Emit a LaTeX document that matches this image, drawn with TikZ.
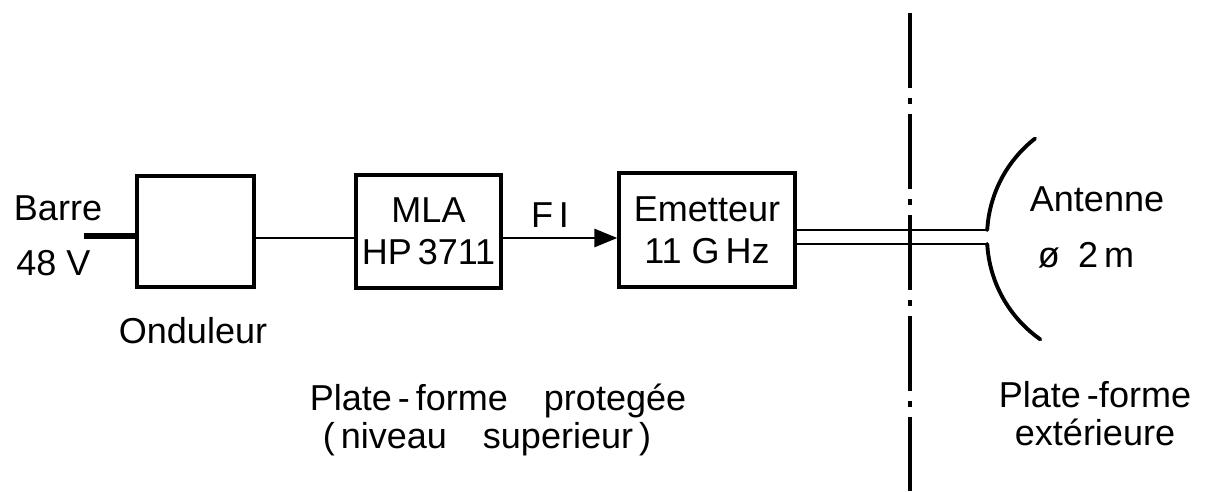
\documentclass[tikz,border=0pt]{standalone}
\usepackage{fontspec}
\setmainfont{Liberation Sans}
\usetikzlibrary{arrows.meta}

\begin{document}
\begin{tikzpicture}[x=0.02cm, y=0.02cm, font=\fontsize{20.5pt}{24pt}\selectfont,
  blk/.style={draw, line width=1.9pt, align=center, inner sep=2pt},
  lbl/.style={anchor=base, inner sep=0pt},
  wire/.style={line width=1.6pt},
  feed/.style={line width=1.6pt},
  ant/.style={line width=2.2pt, line cap=round},
  bound/.style={line width=2pt, dash pattern=on 42.7pt off 5.7pt on 3.4pt off 5.7pt}]
  \useasboundingbox (0,0) rectangle (1210,491);
  \node[blk, minimum width=2.34cm, minimum height=2.22cm] (ond) at (195.5,259.5) {};
  \node[blk, minimum width=2.9cm, minimum height=2.26cm] (mla) at (428.5,259.5) {MLA\\ HP\,3711};
  \node[blk, minimum width=3.52cm, minimum height=2.28cm] (emt) at (707,261) {Emetteur\\ 11 G\,Hz};
  \coordinate (bar) at (84,255);
  \coordinate (sig) at (0,253);
  \coordinate (ant) at (1112,254);
  % texts
  \node[lbl] (barre) at (58,271) {Barre};
  \node[lbl] (volt) at (53.5,216) {48 V};
  \node[lbl] (ondlbl) at (193,148) {Onduleur};
  \node[lbl] (fi) at (550,264) {F\,I};
  \node[lbl] (antlbl) at (1097,280) {Antenne};
  \node[lbl] (diam) at (1086,224) {ø\enspace 2\,m};
  \node[lbl] (pf1) at (498,81) {Plate\,-\,forme\quad protegée};
  \node[lbl] (pf2) at (487,43) {(\,niveau\quad superieur\,)};
  \node[lbl] (pe1) at (1095,84) {Plate\,-forme};
  \node[lbl] (pe2) at (1095,46) {extérieure};
  % connectors
  \draw[line width=3.4pt] (bar) -- (bar -| ond.west);
  \draw[wire] (ond.east |- sig) -- (mla.west |- sig);
  \draw[wire, -{Triangle[length=0.46cm, width=0.36cm]}] (mla.east |- sig) -- (emt.west |- sig);
  % antenna and feed
  \draw[ant] (ant) ++(176.8:2.5cm) coordinate (au) arc[start angle=176.8, end angle=128, radius=2.5cm];
  \draw[ant] (ant) ++(183.2:2.5cm) coordinate (al) arc[start angle=183.2, end angle=235, radius=2.5cm];
  \draw[feed] (emt.east |- au) -- (au);
  \draw[feed] (emt.east |- al) -- (al);
  % boundary
  \draw[bound] (910,478) -- (910,0);
\end{tikzpicture}
\end{document}
